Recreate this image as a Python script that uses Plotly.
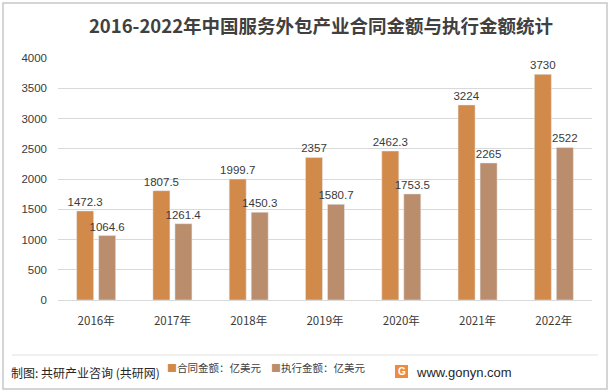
import plotly.graph_objects as go

years = ["2016年", "2017年", "2018年", "2019年", "2020年", "2021年", "2022年"]
contract = [1472.3, 1807.5, 1999.7, 2357, 2462.3, 3224, 3730]
executed = [1064.6, 1261.4, 1450.3, 1580.7, 1753.5, 2265, 2522]
contract_labels = ["1472.3", "1807.5", "1999.7", "2357", "2462.3", "3224", "3730"]
executed_labels = ["1064.6", "1261.4", "1450.3", "1580.7", "1753.5", "2265", "2522"]
yticks = [0, 500, 1000, 1500, 2000, 2500, 3000, 3500, 4000]
series_names = ["合同金额：亿美元", "执行金额：亿美元"]
series_colors = ["#D28A4B", "#BA8E6D"]

font_family = "Noto Sans CJK SC, Noto Sans, sans-serif"
num_font = "Liberation Sans, Arial, sans-serif"

W, H = 613, 392
L, R, T, B = 58, 21, 58, 92
pw, ph = W - L - R, H - T - B


def px(x):
    return (x - L) / pw


def py(y):
    return (H - B - y) / ph


fig = go.Figure()
for vals, labels, name, color in [(contract, contract_labels, series_names[0], series_colors[0]),
                                  (executed, executed_labels, series_names[1], series_colors[1])]:
    fig.add_trace(go.Bar(
        x=years, y=vals, name=name,
        marker=dict(color=color),
        text=labels, textposition="outside", constraintext="none",
        textfont=dict(size=11.5, color="#3A3A3A", family=num_font),
        cliponaxis=False, showlegend=False,
    ))

annotations = [
    dict(text="制图: 共研产业咨询 (共研网)", xref="paper", yref="paper", x=px(9), y=py(372),
         xanchor="left", yanchor="middle", showarrow=False,
         font=dict(size=12, color="#262626", family=font_family)),
    dict(text="<b>G</b>", xref="paper", yref="paper", x=px(401.5), y=py(371),
         xanchor="center", yanchor="middle", showarrow=False,
         font=dict(size=10, color="white", family=num_font)),
    dict(text="www.gonyn.com", xref="paper", yref="paper", x=px(414), y=py(372),
         xanchor="left", yanchor="middle", showarrow=False,
         font=dict(size=13, color="#262626", family=num_font)),
]
for name, color, x0 in zip(series_names, series_colors, [165, 269]):
    annotations.append(dict(text=f"<span style='color:{color};font-size:10px'>■</span>" + name,
                            xref="paper", yref="paper", x=px(x0), y=py(367),
                            xanchor="left", yanchor="middle", showarrow=False,
                            font=dict(size=10.5, color="#404040", family=font_family)))

fig.update_layout(
    width=W, height=H,
    paper_bgcolor="white", plot_bgcolor="white",
    margin=dict(l=L, r=R, t=T, b=B),
    bargap=0.423, bargroupgap=0.227,
    font=dict(family=font_family, color="#404040"),
    title=dict(text="<b>2016-2022年中国服务外包产业合同金额与执行金额统计</b>",
               x=px(321), xref="paper", xanchor="center", y=1 - 27 / H, yanchor="middle",
               font=dict(size=18.5, color="#404040", family=font_family)),
    showlegend=False,
    xaxis=dict(showgrid=False, showline=True, linecolor="#D9D9D9", ticks="",
               tickfont=dict(size=11.5, color="#3A3A3A", family=font_family),
               ticklabelstandoff=10),
    yaxis=dict(range=[0, 4000], tickvals=yticks, showgrid=True, gridcolor="#D9D9D9",
               zeroline=False, showline=False, ticks="",
               tickfont=dict(size=11.5, color="#3A3A3A", family=num_font),
               ticklabelstandoff=10),
    shapes=[
        dict(type="rect", xref="paper", yref="paper", x0=px(3), x1=px(607), y0=py(389), y1=py(3),
             line=dict(color="#C8C8C8", width=1.5), fillcolor="rgba(0,0,0,0)"),
        dict(type="line", xref="paper", yref="paper", x0=px(12), x1=px(598), y0=py(355), y1=py(355),
             line=dict(color="#E0E0E0", width=1)),
        dict(type="rect", xref="paper", yref="paper", x0=px(395), x1=px(408), y0=py(378), y1=py(365),
             line=dict(width=0), fillcolor="#F08A3C"),
    ],
    annotations=annotations,
)

fig.write_html("out.html", config={"displayModeBar": False},
               post_script="document.body.style.margin='0';document.body.style.overflow='hidden';")
